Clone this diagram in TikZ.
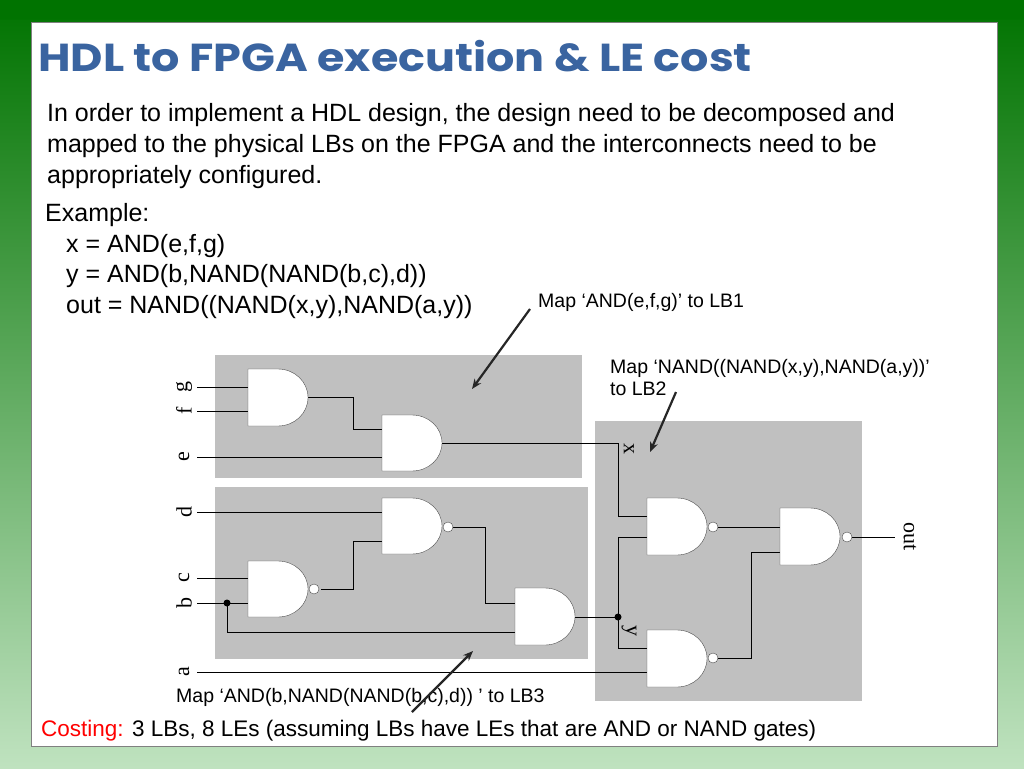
\documentclass[tikz,border=0pt]{standalone}
\usepackage{fontspec}
\setmainfont{Liberation Sans}
\newfontfamily\titlefont{Poppins}
\newfontfamily\lblfont{Liberation Serif}
\usetikzlibrary{arrows.meta}
\definecolor{lbgray}{HTML}{C0C0C0}
\definecolor{titleblue}{HTML}{3A64A0}
\newcommand{\andg}[3]{% x, top y, bottom y
  \draw[fill=white,draw=black!70] (#1+30,#3) -- (#1,#3) -- (#1,#2) -- (#1+30,#2) arc[start angle=-90,end angle=90,x radius=30,y radius={(#3-#2)/2}] -- cycle;}
\newcommand{\bub}[2]{\draw[fill=white,draw=black!70] (#1,#2) circle (5);}
\begin{document}
\begin{tikzpicture}[x=1pt,y=-1pt,
  wire/.style={black,line width=0.8pt},
  lbl/.style={font=\lblfont\fontsize{22}{24}\selectfont},
  arr/.style={-{Stealth[length=10pt,width=8pt]},line width=2.2pt,black!85},
  body/.style={anchor=west,font=\fontsize{25}{28}\selectfont,inner sep=0},
  note/.style={anchor=west,font=\fontsize{19.5}{22}\selectfont,inner sep=0}]
\useasboundingbox (0,0) rectangle (1024,768);
\shade[top color=green!45!black,bottom color=green!55!black!25!white] (0,0) rectangle (1024,768);
\fill[green!45!black,opacity=0.5] (0,0) rectangle (1024,20);
\fill[white,draw=black!50] (31,22) rectangle (997,746);
\node[anchor=west,inner sep=0,text=titleblue,font=\titlefont\bfseries\fontsize{39}{41}\selectfont] (title) at (38,56) {\scalebox{1.14}[1]{HDL to FPGA execution \& LE cost}};
\node[body] (p1) at (47,115) {In order to implement a HDL design, the design need to be decomposed and};
\node[body] (p2) at (47,146) {mapped to the physical LBs on the FPGA and the interconnects need to be};
\node[body] (p3) at (47,177) {appropriately configured.};
\node[body] (ex) at (45,215) {Example:};
\node[body] (e1) at (66,246) {x = AND(e,f,g)};
\node[body] (e2) at (66,276) {y = AND(b,NAND(NAND(b,c),d))};
\node[body] (e3) at (66,307) {out = NAND((NAND(x,y),NAND(a,y))};
% LB boxes
\fill[lbgray] (215,355) rectangle (582,478);
\fill[lbgray] (215,487) rectangle (588,659);
\fill[lbgray] (595,421) rectangle (862,701);
% wires
\draw[wire] (197,387) -- (248,387);
\draw[wire] (197,411) -- (248,411);
\draw[wire] (308,397) -- (353,397) -- (353,429) -- (382,429);
\draw[wire] (197,457) -- (382,457);
\draw[wire] (442,443) -- (618,443) -- (618,516) -- (647,516);
\draw[wire] (197,512) -- (382,512);
\draw[wire] (321,589) -- (353,589) -- (353,541) -- (382,541);
\draw[wire] (197,578) -- (248,578);
\draw[wire] (197,603) -- (248,603);
\draw[wire] (227,603) -- (227,632) -- (515,632);
\draw[wire] (453,527) -- (485,527) -- (485,603) -- (515,603);
\draw[wire] (575,617) -- (618,617);
\draw[wire] (647,537) -- (618,537) -- (618,648) -- (647,648);
\draw[wire] (197,672) -- (647,672);
\draw[wire] (718,527) -- (780,527);
\draw[wire] (718,658) -- (751,658) -- (751,552) -- (780,552);
\draw[wire] (852,537) -- (895,537);
\fill (227,603) circle (3.5);
\fill (618,617) circle (3.5);
% gates
\andg{248}{369}{426}
\andg{382}{415}{471}
\andg{382}{498}{554} \bub{448}{527}
\andg{248}{561}{617} \bub{314}{589}
\andg{515}{588}{645}
\andg{647}{498}{555} \bub{713}{527}
\andg{647}{630}{687} \bub{713}{658}
\andg{780}{508}{565} \bub{847}{537}
% signal labels
\foreach \n/\t/\yy in {lg/g/387,lf/f/411,le/e/457,ld/d/512,lc/c/578,lb/b/603,la/a/672}
  \node[lbl,rotate=90] (\n) at (184,\yy) {\t};
\node[lbl,rotate=-90] (lx) at (629,449) {x};
\node[lbl,rotate=-90] (ly) at (629,631) {y};
\node[lbl,rotate=-90] (lout) at (910,537) {out};
% notes
\node[note] (m1) at (538,302) {Map ‘AND(e,f,g)’ to LB1};
\node[note,align=left] (m2) at (610,378) {Map ‘NAND((NAND(x,y),NAND(a,y))’\\to LB2};
\node[note] (m3) at (176,697) {Map ‘AND(b,NAND(NAND(b,c),d)) ’ to LB3};
\coordinate (a1s) at (530,309); \coordinate (a1e) at (472,389);
\coordinate (a2s) at (676,392); \coordinate (a2e) at (650,452);
\coordinate (a3s) at (412,712); \coordinate (a3e) at (473,651);
\draw[arr] (a1s) -- (a1e);
\draw[arr] (a2s) -- (a2e);
\draw[arr] (a3s) -- (a3e);
\node[anchor=west,inner sep=0,font=\fontsize{22.5}{25}\selectfont] (cost) at (41,731) {\textcolor{red}{Costing:} 3 LBs, 8 LEs (assuming LBs have LEs that are AND or NAND gates)};
\end{tikzpicture}
\end{document}
